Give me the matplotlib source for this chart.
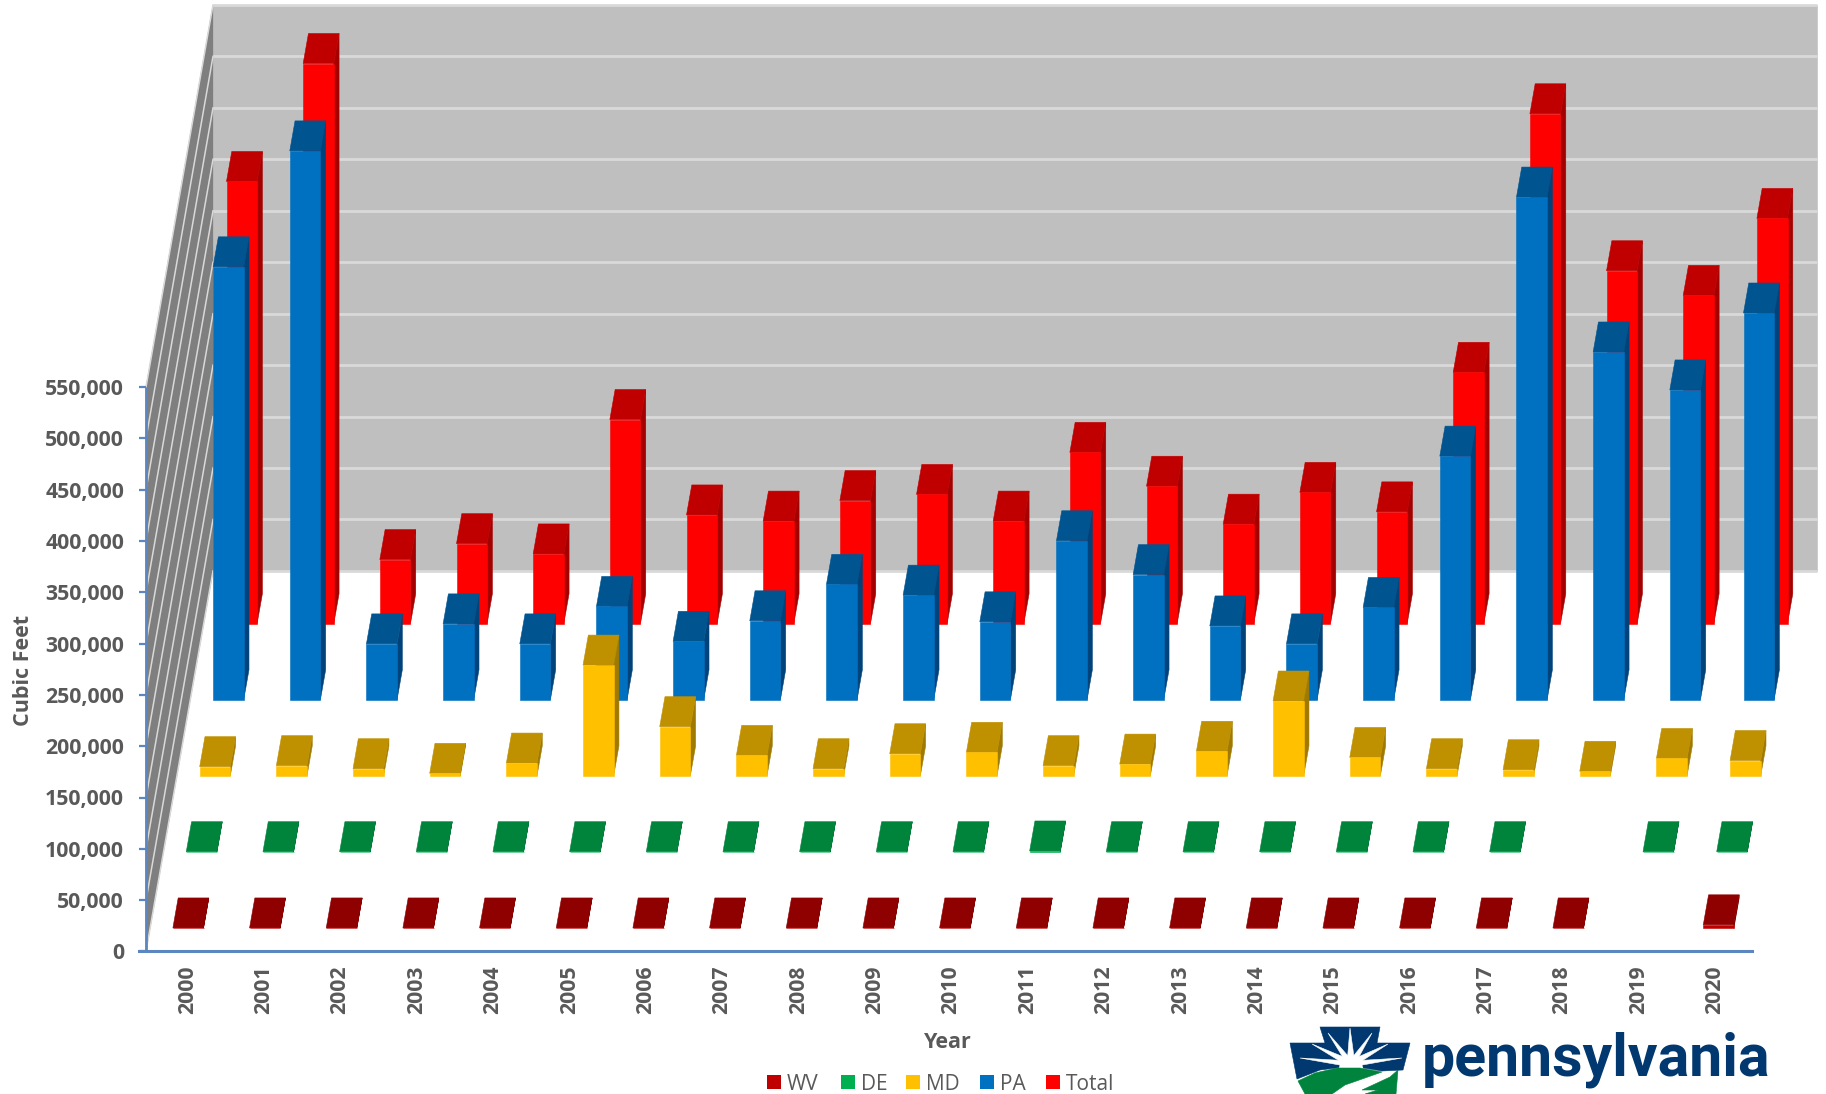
import matplotlib
matplotlib.use('Agg')
import matplotlib.pyplot as plt
from matplotlib.patches import Polygon, Circle, Rectangle

years = list(range(2000, 2021))

# cubic feet, None = no bar in that year
wv = [150, 150, 150, 150, 150, 150, 150, 150, 150, 150, 150, 150, 150, 150, 150, 150,
      150, 150, 150, None, 3200]
de = [300, 300, 300, 300, 300, 300, 300, 300, 300, 300, 300, 1000, 300, 300, 300, 300,
      300, 300, None, 300, 300]
md = [9000, 10000, 7000, 2500, 12500, 108000, 48000, 20000, 7000, 21600, 23000, 10000,
      11500, 24000, 73000, 18000, 7000, 6000, 4500, 17000, 15000]
pa = [422000, 535000, 54500, 74000, 54500, 91000, 57000, 77000, 112500, 102000, 76000,
      155000, 122000, 72000, 54500, 90000, 237500, 490000, 339000, 302000, 377000]
total = [431000, 546000, 62500, 78000, 68000, 199000, 106000, 100000, 120000, 126000,
         100000, 167000, 134000, 97000, 128000, 109000, 245000, 497000, 344000, 320000, 395000]

# front, top, side
wv_cols = ['#C00000', '#8F0000', '#700000']
de_cols = ['#00B050', '#00843C', '#006A30']
md_cols = ['#FFC000', '#BF9000', '#A07A00']
pa_cols = ['#0070C0', '#005490', '#00437A']
total_cols = ['#FF0000', '#C00000', '#A50000']

series = [('WV', wv, wv_cols), ('DE', de, de_cols), ('MD', md, md_cols),
          ('PA', pa, pa_cols), ('Total', total, total_cols)]

# projection of the 3d box onto the picture, in pixels
X0 = 146.0
Y0 = 951.4
CAT_W = 76.67
LABEL_W = 76.38
PX_PER_VAL = 51.3 / 50000
WALL_PX_PER_VAL = 51.45 / 50000
WALL_DX = 67.0
WALL_DY = 380.5
ROW_DY = WALL_DY / 5
BAR_W = 30.6
BAR_D = 30.0
GAP_X = 22.8
GAP_D = 23.3
AXIS_END = 1752.0


def proj(x, d, v, scale=PX_PER_VAL):
    return (X0 + x + d * WALL_DX / WALL_DY, Y0 - d - v * scale)


def poly(ax, pts, col, z, ec=None):
    ax.add_patch(Polygon(pts, closed=True, facecolor=col, edgecolor=ec or col, lw=0.4, zorder=z))


def bar3d(ax, x, d, v, cols, z):
    a = proj(x, d, 0)
    b = proj(x + BAR_W, d, 0)
    c = proj(x + BAR_W, d, v)
    e = proj(x, d, v)
    f = proj(x, d + BAR_D, v)
    g = proj(x + BAR_W, d + BAR_D, v)
    h = proj(x + BAR_W, d + BAR_D, 0)
    poly(ax, [b, h, g, c], cols[2], z)
    poly(ax, [e, c, g, f], cols[1], z)
    poly(ax, [a, b, c, e], cols[0], z)


fig = plt.figure(figsize=(18.26, 10.94), dpi=100)
ax = fig.add_axes([0, 0, 1, 1])
ax.set_xlim(0, 1826)
ax.set_ylim(1094, 0)
ax.axis('off')

ticks = list(range(0, 550001, 50000))
wall_right = 1817
ws = WALL_PX_PER_VAL

# back wall and side wall
poly(ax, [proj(0, WALL_DY, 0, ws), (wall_right, proj(0, WALL_DY, 0, ws)[1]),
          (wall_right, proj(0, WALL_DY, 550000, ws)[1]), proj(0, WALL_DY, 550000, ws)], '#BFBFBF', 1)
poly(ax, [proj(0, 0, 0), proj(0, WALL_DY, 0, ws), proj(0, WALL_DY, 550000, ws), proj(0, 0, 550000)], '#7F7F7F', 1)
for t in ticks:
    p0 = proj(0, 0, t)
    p1 = proj(0, WALL_DY, t, ws)
    ax.plot([p0[0], p1[0]], [p0[1], p1[1]], color='#D9D9D9', lw=1.1, zorder=2)
    ax.plot([p1[0], wall_right], [p1[1], p1[1]], color='#D9D9D9', lw=2.0, zorder=2, solid_capstyle='butt')

# bars, back row first
z = 3
for row in range(len(series) - 1, -1, -1):
    name, vals, cols = series[row]
    d = row * ROW_DY + GAP_D
    for i, v in enumerate(vals):
        if v is None:
            continue
        x = i * CAT_W + GAP_X
        if i == 20:
            x -= 3  # last group sits a bit closer in the original
        bar3d(ax, x, d, v, cols, z)
        z += 1

# axes
axis_col = '#5B86C0'
top = proj(0, 0, 550000)[1]
ax.plot([X0, X0], [top, Y0], color=axis_col, lw=2.0, zorder=200, solid_capstyle='butt')
ax.plot([X0 - 7, AXIS_END], [Y0, Y0], color=axis_col, lw=2.2, zorder=200)
txt = '#595959'
font = 'Open Sans'
for t in ticks:
    y = proj(0, 0, t)[1]
    ax.plot([X0 - 7, X0], [y, y], color=axis_col, lw=1.6, zorder=200, solid_capstyle='butt')
    ax.text(124, y, '{:,}'.format(t), ha='right', va='center_baseline', fontsize=15.3, color=txt,
            fontweight='bold', family=font)

for i, yr in enumerate(years):
    ax.text(X0 + 41.3 + i * LABEL_W, 990, str(yr), rotation=90, ha='center', va='center', fontsize=15.3,
            color=txt, fontweight='bold', family=font)

ax.text(24, 670, 'Cubic Feet', rotation=90, ha='center', va='center', fontsize=15.5, color=txt,
        fontweight='bold', family=font)
ax.text(948, 1043, 'Year', ha='center', va='center', fontsize=15.5, color=txt, fontweight='bold', family=font)

# legend
leg_names = ['WV', 'DE', 'MD', 'PA', 'Total']
leg_cols = [wv_cols[0], de_cols[0], md_cols[0], pa_cols[0], total_cols[0]]
leg_x = [767, 841, 906, 980, 1046]
for name, col, lx in zip(leg_names, leg_cols, leg_x):
    ax.add_patch(Rectangle((lx, 1075), 14, 14, facecolor=col, edgecolor='none', zorder=5))
    ax.text(lx + 20, 1082, name, ha='left', va='center_baseline', fontsize=15, color=txt, family=font)

# logo
navy = '#00386F'
green = '#00843D'
poly(ax, [(1320, 1027), (1380, 1027), (1377, 1043), (1410, 1043), (1403, 1070), (1382, 1071), (1352, 1066),
          (1320, 1070), (1297, 1079), (1290, 1043), (1325, 1043)], navy, 300)
for tip, base in [((1350, 1028), 4), ((1328, 1033), 4), ((1372, 1033), 4), ((1312, 1044), 4), ((1388, 1044), 4),
                  ((1300, 1058), 3), ((1402, 1058), 3)]:
    sx, sy = 1351, 1064
    if abs(tip[0] - sx) > 30:
        poly(ax, [tip, (sx, sy - base), (sx, sy + base)], 'white', 301)
    else:
        poly(ax, [tip, (sx - base, sy), (sx + base, sy)], 'white', 301)
ax.add_patch(Circle((1351, 1069), 12, facecolor='white', edgecolor='none', zorder=302))
poly(ax, [(1298, 1081), (1315, 1073), (1337, 1068), (1360, 1068), (1382, 1072), (1365, 1078), (1345, 1085),
          (1332, 1094), (1305, 1094)], green, 303)
poly(ax, [(1398, 1070), (1390, 1077), (1375, 1084), (1362, 1090), (1378, 1090), (1365, 1094), (1396, 1094)],
     green, 303)
ax.text(1422, 1075, 'pennsylvania', ha='left', va='baseline', fontsize=42.5, color=navy, fontweight='bold',
        family='Roboto', zorder=300)
ax.text(1422, 1107, 'DEPARTMENT OF ENVIRONMENTAL PROTECTION', ha='left', va='baseline', fontsize=13.5,
        color='#A9BBD0', family='Roboto', zorder=300, clip_on=False)

fig.savefig('out.png', dpi=100, facecolor='white')
